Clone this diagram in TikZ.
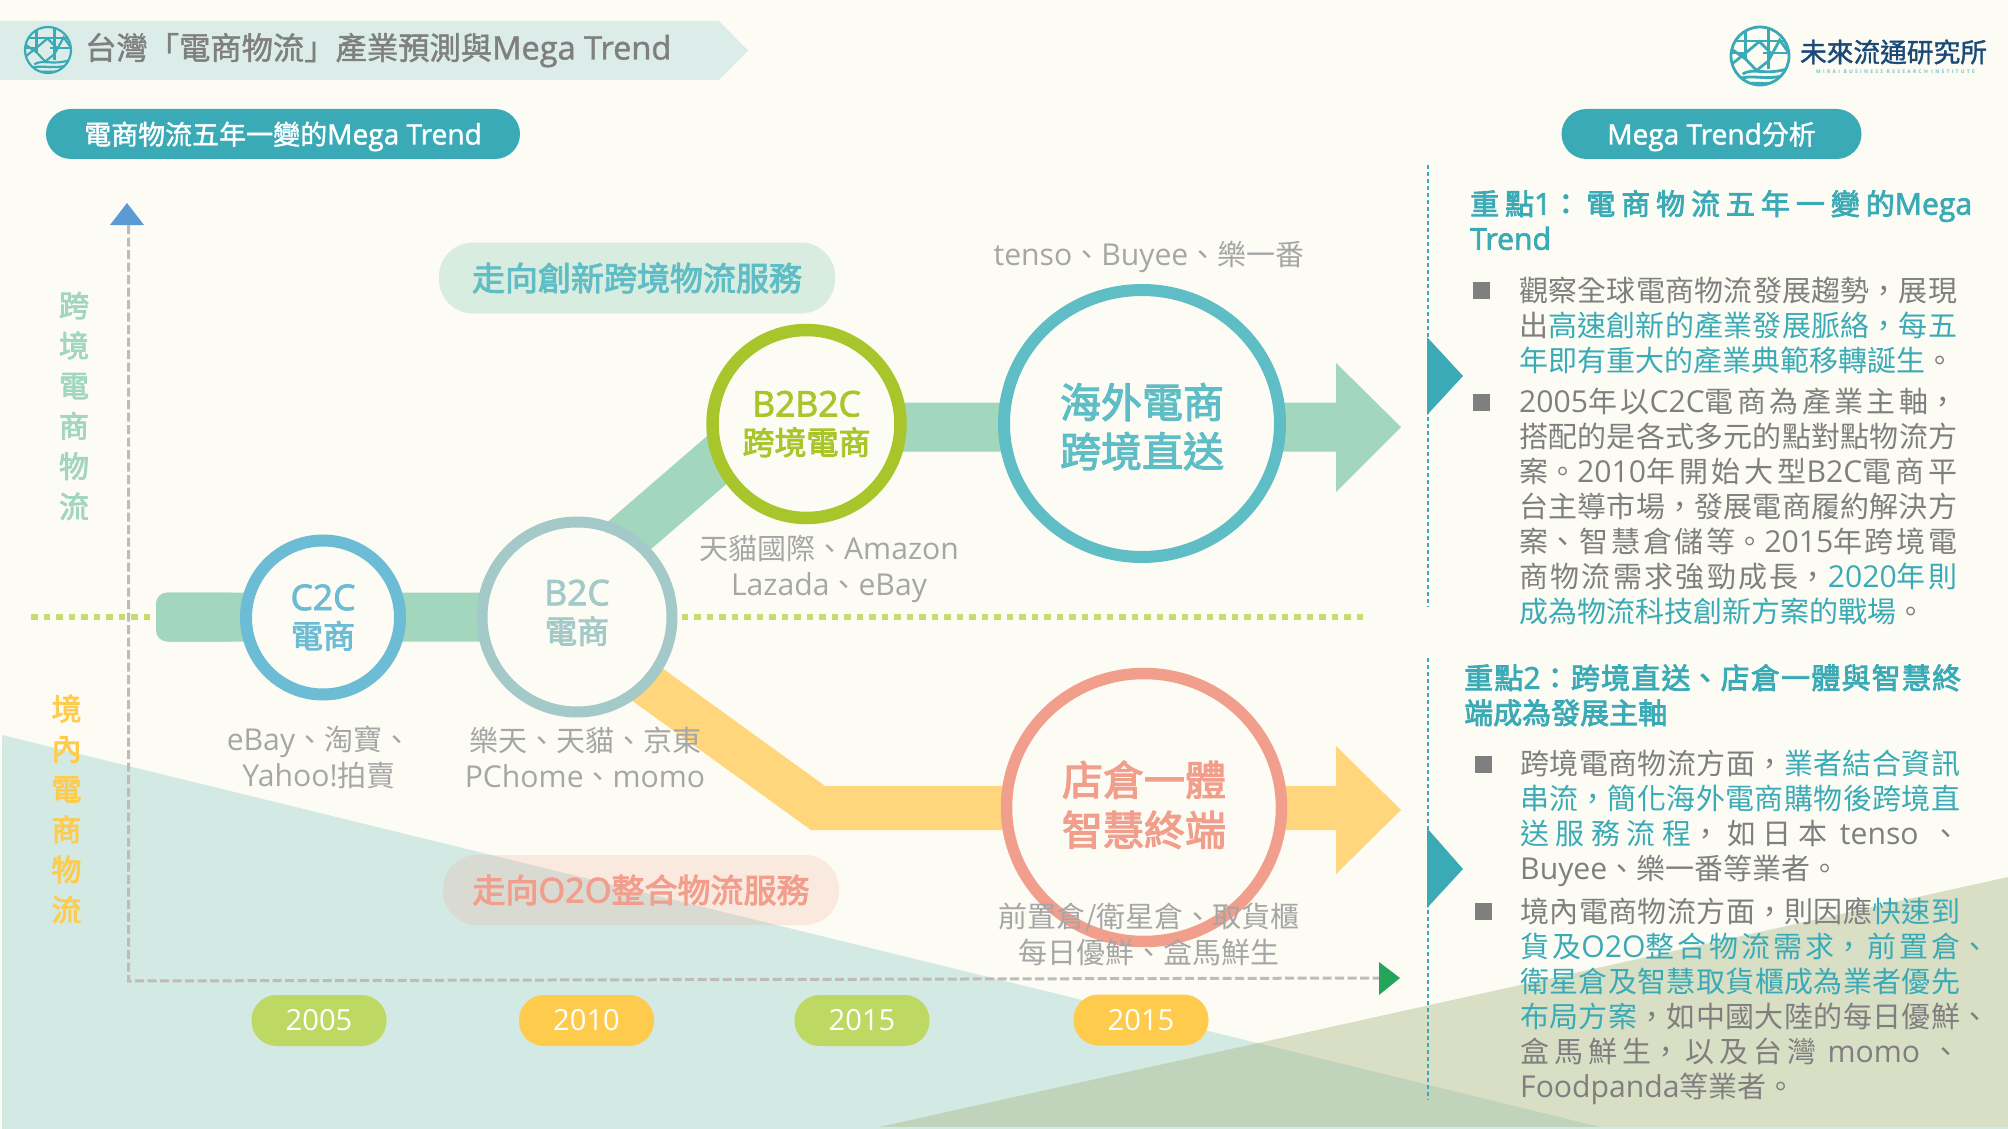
\documentclass[tikz,border=0pt]{standalone}
\usepackage{fontspec}
\usetikzlibrary{shapes.geometric}
\setmainfont{Noto Sans CJK TC}
\newfontfamily\cjkmed[FakeBold=1.4]{Noto Sans CJK TC}
\newfontfamily\cjkstrong[FakeBold=2.8]{Noto Sans CJK TC}
\newfontfamily\enfont[Scale=1.04]{Open Sans}
\newfontfamily\enmed[Scale=1.04,FakeBold=1.4]{Open Sans}
\newfontfamily\enstrong[Scale=1.04,FakeBold=2.4]{Open Sans}
\newfontfamily\entiny[LetterSpace=45]{Open Sans}
\XeTeXlinebreaklocale "zh"
\XeTeXlinebreakskip=0pt plus 20pt minus 1pt
\tolerance=9999
\hyphenpenalty=10000
\newcommand{\lat}[1]{{\enfont #1}}
\newcommand{\latm}[1]{{\enmed #1}}
\newcommand{\lats}[1]{{\enstrong #1}}
\newcommand{\fs}[2]{\fontsize{#1}{#2}\selectfont}
\newcommand{\hl}[1]{\textcolor{panelteal}{#1}}
\newcommand{\gapsp}{\hskip 6pt plus 20pt\relax}
\definecolor{bgcream}{HTML}{FDFCF4}
\definecolor{titleband}{HTML}{DCEDE9}
\definecolor{panelteal}{HTML}{3AABB6}
\definecolor{textgray}{HTML}{7F7F7F}
\definecolor{labelgray}{HTML}{A6A6A6}
\definecolor{trianglea}{HTML}{D3E9E3}
\definecolor{triangleb}{HTML}{A5B783}
\definecolor{bandgreen}{HTML}{A2D6BD}
\definecolor{bandyellow}{HTML}{FFD67C}
\definecolor{ringblue}{HTML}{6BBCD4}
\definecolor{ringgray}{HTML}{A3C9C9}
\definecolor{ringlime}{HTML}{A8C62C}
\definecolor{ringteal}{HTML}{5FBDC5}
\definecolor{ringpink}{HTML}{F29E8C}
\definecolor{pillgreen}{HTML}{D8ECDF}
\definecolor{yearlime}{HTML}{BED963}
\definecolor{yearyellow}{HTML}{FFCB4C}
\definecolor{dashgray}{HTML}{BFBBBB}
\definecolor{dotlime}{HTML}{C6DC6C}
\definecolor{logoblue}{HTML}{1B4A78}
\definecolor{tipblue}{HTML}{5B9BD5}
\definecolor{tipgreen}{HTML}{23A65A}
\tikzset{
    every node/.style={inner sep=0pt},
    band/.style={line width=#1, line join=miter},
    ringnode/.style={ellipse, fill=bgcream, align=center, font=\cjkstrong\fs{32}{38}},
    lblnode/.style={text=labelgray, align=center, font=\fs{29}{36}},
    headpill/.style={rounded corners=25pt, fill=panelteal, text=white, minimum height=50pt, text height=21pt, text depth=0pt, font=\cjkmed\fs{27}{27}},
    yearpill/.style={rounded corners=25pt, minimum width=135pt, minimum height=51pt, text=white, font=\fs{28}{28}},
    sidelabel/.style={align=center, font=\cjkstrong\fs{30}{40.2}},
    bodytext/.style={anchor=north west, text width=#1, align=justify, text=textgray, font=\fs{29}{35}},
    headtext/.style={anchor=north west, text width=#1, align=justify, text=panelteal, font=\cjkstrong\fs{29}{35}},
    bulletbox/.style={fill=textgray, minimum width=17pt, minimum height=17pt},
    axisdash/.style={draw=dashgray, line width=3pt, dash pattern=on 9pt off 3.5pt},
    limedots/.style={draw=dotlime, line width=6pt, dash pattern=on 6.5pt off 6pt},
    paneldots/.style={draw=panelteal, line width=2.4pt, dash pattern=on 4pt off 3pt},
    pics/logomark/.style={code={
        \begin{scope}
            \clip (0,0) circle (1);
            \draw (-1,-0.52) -- (1,-0.52);
            \draw (-1,-0.1) -- (-0.5,-0.1);
            \draw (0.1,-0.1) -- (1,-0.1);
            \draw (-0.5,-1) -- (-0.5,0.1);
            \draw (0.28,-1) -- (0.28,0.45);
            \draw (-1,0.3) -- (-0.5,-0.1) -- (-0.02,-0.5) -- (0.42,-0.05);
            \draw (-1,-0.25) -- (-0.5,0.1) -- (-0.12,0.5);
            \draw (-0.12,0.5) -- (0.28,0.18) -- (0.68,-0.55) -- (1,-0.1);
            \draw (-0.6,0.62) .. controls (-0.2,0.38) and (0.2,0.7) .. (1,0.42);
            \draw (-0.8,0.82) .. controls (-0.3,0.58) and (0.2,0.9) .. (1,0.62);
            \draw (-0.5,1) .. controls (-0.2,0.85) and (0.2,1.05) .. (0.7,0.85);
        \end{scope}
        \draw (0,0) circle (1);
    }}
}
\begin{document}
\begin{tikzpicture}[x=1pt,y=-1pt]
    \useasboundingbox (0,0) rectangle (2008,1129);
    \fill[bgcream] (0,0) rectangle (2008,1129);
    \fill[trianglea] (2,735) -- (1608,1129) -- (2,1129) -- cycle;
    \fill[triangleb, opacity=0.42] (870,1129) -- (2008,877) -- (2008,1129) -- cycle;
    \fill[trianglea] (2,1127) rectangle (2008,1129);

    \fill[titleband] (0,21) -- (719,21) -- (748,50.5) -- (719,80) -- (0,80) -- cycle;
    \coordinate (logotitle) at (48,50);
    \coordinate (logoinst) at (1760,56);
    \pic[x=23pt,y=-23pt,draw=panelteal,line width=2.2pt] at (logotitle) {logomark};
    \node[anchor=west, text=textgray, text height=23pt, text depth=0pt, font=\cjkmed\fs{31.3}{31}] (titletext) at (85,48) {台灣「電商物流」產業預測與\latm{Mega Trend}};

    \pic[x=29pt,y=-29pt,draw=panelteal,line width=2.8pt] at (logoinst) {logomark};
    \node[text=logoblue, font=\cjkmed\fs{26.7}{27}] (instname) at (1893.5,52) {未來流通研究所};
    \node[text=panelteal!70, font=\bfseries\entiny\fs{5}{5}] (instsub) at (1895.5,72) {MIRAI BUSINESS RESEARCH INSTITUTE};

    \node[headpill, minimum width=474pt] (trendpill) at (283,134) {電商物流五年一變的\latm{Mega Trend}};
    \node[headpill, minimum width=300pt] (analysispill) at (1711.5,134) {\latm{Mega Trend}分析};

    \node[fill=pillgreen, rounded corners=34pt, minimum width=396pt, minimum height=71pt, text=ringteal, font=\cjkstrong\fs{33}{33}] (crosspill) at (637,278) {走向創新跨境物流服務};
    \node[fill=ringpink, fill opacity=0.2, text opacity=1, rounded corners=34pt, minimum width=396pt, minimum height=70pt, text=ringpink, font=\cjkstrong\fs{33}{33}] (o2opill) at (641,890) {走向\lats{O2O}整合物流服務};

    \coordinate (dotstart) at (31,617);
    \coordinate (dotstop) at (150,617);
    \coordinate (dotend) at (1363,617);
    \draw[limedots] (dotstart) -- (dotstop);

    \coordinate (greenstart) at (167,617);
    \coordinate (greenbendlo) at (535,617);
    \coordinate (greenbendhi) at (755,427);
    \coordinate (greenbase) at (1336,427);
    \coordinate (greentip) at (1401,427);
    \fill[bandgreen, rounded corners=11pt] (156,592.5) rectangle (240,641.5);
    \draw[bandgreen, band=49pt] (greenstart) -- (greenbendlo) -- (greenbendhi) -- (greenbase);
    \fill[bandgreen] (1336,363) -- (greentip) -- (1336,492) -- cycle;

    \coordinate (yellowstart) at (554,617);
    \coordinate (yellowbend) at (818,808);
    \coordinate (yellowbase) at (1336,808);
    \coordinate (yellowtip) at (1401,810);
    \draw[bandyellow, band=44pt] (yellowstart) -- (yellowbend) -- (yellowbase);
    \fill[bandyellow] (1336,746) -- (yellowtip) -- (1336,874) -- cycle;

    \node[ringnode, draw=ringblue, text=ringblue, line width=12pt, minimum width=154pt, minimum height=154pt] (c2c) at (323,617.5) {\lats{\fs{34}{38}C2C}\\電商};
    \node[ringnode, draw=ringgray, text=ringgray, line width=11pt, minimum width=190pt, minimum height=190pt, text depth=11pt] (b2c) at (577,617) {\lats{\fs{34}{38}B2C}\\電商};
    \node[ringnode, draw=ringlime, text=ringlime, line width=12.5pt, minimum width=188pt, minimum height=188pt] (b2b2c) at (806.5,424) {\lats{\fs{34}{38}B2B2C}\\跨境電商};
    \node[ringnode, draw=ringteal, text=ringteal, line width=12pt, minimum width=276pt, minimum height=267pt, text height=90pt, font=\cjkstrong\fs{41}{49}] (overseas) at (1142,423.5) {海外電商\\跨境直送};
    \node[ringnode, draw=ringpink, text=ringpink, line width=11.5pt, minimum width=275pt, minimum height=268pt, text depth=9pt, font=\cjkstrong\fs{41}{50}] (storeware) at (1144,807.5) {店倉一體\\智慧終端};
    \draw[limedots] ([xshift=4pt]b2c.east) -- (dotend);

    \node[lblnode] (lblcc) at (319,757) {\lat{eBay}、淘寶、\\\lat{Yahoo!}拍賣};
    \node[lblnode] (lblbc) at (585,757) {樂天、天貓、京東\\\lat{PChome}、\lat{momo}};
    \node[lblnode] (lblbbc) at (829,569) {天貓國際、\lat{Amazon}\\\lat{Lazada}、\lat{eBay}};
    \node[lblnode] (lblover) at (1149,257) {\lat{tenso}、\lat{Buyee}、樂一番};
    \node[lblnode] (lblstore) at (1149,934) {前置倉/衛星倉、取貨櫃\\每日優鮮、盒馬鮮生};

    \node[sidelabel, text=bandgreen] (sidecross) at (74,406) {跨\\境\\電\\商\\物\\流};
    \node[sidelabel, text=yearyellow] (sidelocal) at (66.5,809) {境\\內\\電\\商\\物\\流};

    \coordinate (axistop) at (128.5,225);
    \coordinate (axiscorner) at (128.5,981);
    \coordinate (axisend) at (1379,978);
    \draw[axisdash] (axistop) -- (axiscorner) -- (axisend);
    \fill[tipblue] (110,225) -- (127,203) -- (144,225) -- cycle;
    \fill[tipgreen] (1379,962) -- (1400,978) -- (1379,995) -- cycle;

    \node[yearpill, fill=yearlime] (yeara) at (319,1020.5) {\lat{2005}};
    \node[yearpill, fill=yearyellow] (yearb) at (586.5,1020.5) {\lat{2010}};
    \node[yearpill, fill=yearlime] (yearc) at (862,1020.5) {\lat{2015}};
    \node[yearpill, fill=yearyellow] (yeard) at (1141,1020) {\lat{2015}};

    \coordinate (dotsatop) at (1428,165);
    \coordinate (dotsabot) at (1428,607);
    \coordinate (dotsbtop) at (1428,658);
    \coordinate (dotsbbot) at (1428,1100);
    \draw[paneldots] (dotsatop) -- (dotsabot);
    \draw[paneldots] (dotsbtop) -- (dotsbbot);
    \fill[panelteal] (1427,337) -- (1463,376) -- (1427,415) -- cycle;
    \fill[panelteal] (1427,828) -- (1463,869) -- (1427,908) -- cycle;

    \node[headtext=502pt] (headone) at (1470,190) {重點\lats{1}：電商物流五年一變的\lats{Mega}\linebreak\lats{Trend}};
    \node[bulletbox] (bulleta) at (1481.5,290.5) {};
    \node[bodytext=438pt] (bodya) at (1519,276.5) {觀察全球電商物流發展趨勢，展現\linebreak
        出\hl{高速創新的產業發展脈絡，每五}\linebreak
        \hl{年即有重大的產業典範移轉誕生}。};
    \node[bulletbox] (bulletb) at (1481.5,402.5) {};
    \node[bodytext=438pt] (bodyb) at (1519,387.5) {\lat{2005}年以\lat{C2C}電商為產業主軸，\linebreak
        搭配的是各式多元的點對點物流方\linebreak
        案。\lat{2010}年開始大型\lat{B2C}電商平\linebreak
        台主導市場，發展電商履約解決方\linebreak
        案、智慧倉儲等。\lat{2015}年跨境電\linebreak
        商物流需求強勁成長，\hl{\lat{2020}年則}\linebreak
        \hl{成為物流科技創新方案的戰場}。};

    \node[headtext=497pt] (headtwo) at (1464,664) {重點\lats{2}：跨境直送、店倉一體與智慧終\linebreak 端成為發展主軸};
    \node[bulletbox] (bulletc) at (1483.5,764.5) {};
    \node[bodytext=440pt] (bodyc) at (1520,749.5) {跨境電商物流方面，\hl{業者結合資訊}\linebreak
        \hl{串流，簡化海外電商購物後跨境直}\linebreak
        \hl{送服務流程}，如日本\gapsp\lat{tenso}\gapsp、\linebreak
        \lat{Buyee}、樂一番等業者。};
    \node[bulletbox] (bulletd) at (1483.5,911.5) {};
    \node[bodytext=440pt] (bodyd) at (1520,897.5) {境內電商物流方面，則因應\hl{快速到}\linebreak
        \hl{貨及\lat{O2O}整合物流需求，前置倉\rlap{、}}\linebreak
        \hl{衛星倉及智慧取貨櫃成為業者優先}\linebreak
        \hl{布局方案}，如中國大陸的每日優鮮\rlap{、}\linebreak
        盒馬鮮生，以及台灣\gapsp\lat{momo}\gapsp、\linebreak
        \lat{Foodpanda}等業者。};
\end{tikzpicture}
\end{document}
